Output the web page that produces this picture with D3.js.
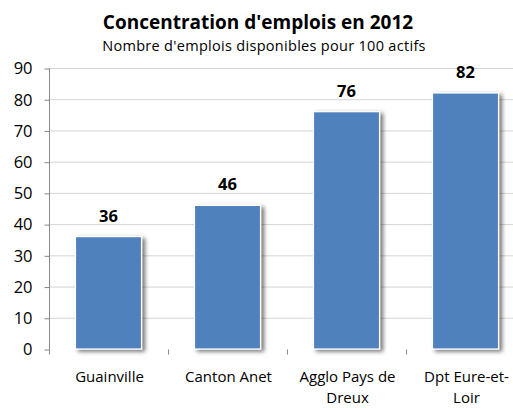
<!DOCTYPE html>
<html>
<head>
<meta charset="utf-8" />
<title>Concentration d'emplois en 2012</title>
<script src="https://d3js.org/d3.v7.min.js" charset="utf-8"></script>
<style>
    body { margin: 0; background: #fff; }
    svg { display: block; overflow: hidden; }
    text { font-family: "Open Sans", "Noto Sans", sans-serif; fill: #000; }
</style>
</head>
<body>
<svg id="chart" width="513" height="408"></svg>
<script>
// donnees
var categories = ["Guainville", "Canton Anet", "Agglo Pays de Dreux", "Dpt Eure-et-Loir"];
var categoryLines = [["Guainville"], ["Canton Anet"], ["Agglo Pays de", "Dreux"], ["Dpt Eure-et-", "Loir"]];
var values = [36, 46, 76, 82];
var yTicks = [0, 10, 20, 30, 40, 50, 60, 70, 80, 90];

var svg = d3.select("#chart"),
    margin = { top: 68, left: 49, bottom: 59 },
    plotRight = 525,
    height = +svg.attr("height") - margin.top - margin.bottom;

var x = d3.scaleBand().domain(categories).range([margin.left, plotRight]).paddingInner(0.445).paddingOuter(0.2225);
var y = d3.scaleLinear().domain([0, 90]).range([margin.top + height, margin.top]);

var defs = svg.append("defs");
var shadow = defs.append("filter").attr("id", "shadow")
    .attr("x", "-20%").attr("y", "-20%").attr("width", "150%").attr("height", "150%");
shadow.append("feDropShadow").attr("dx", 3).attr("dy", 2).attr("stdDeviation", 2.2)
    .attr("flood-color", "#000").attr("flood-opacity", 0.55);

// titre
svg.append("text").attr("x", 258).attr("y", 29).attr("text-anchor", "middle")
    .style("font-size", "19px").style("font-weight", "bold")
    .text("Concentration d'emplois en 2012");
svg.append("text").attr("x", 264).attr("y", 51).attr("text-anchor", "middle")
    .style("font-size", "14.5px").style("letter-spacing", "0.3px")
    .text("Nombre d'emplois disponibles pour 100 actifs");

// grille
svg.append("g").selectAll("line").data(yTicks.slice(1)).enter().append("line")
    .attr("x1", margin.left).attr("x2", plotRight)
    .attr("y1", function (d) { return y(d) + 0.5; }).attr("y2", function (d) { return y(d) + 0.5; })
    .attr("stroke", "#d4d4d4").attr("stroke-width", 1);

// axe y
var yAxis = d3.axisLeft(y).tickValues(yTicks).tickSize(5).tickPadding(12);
var gy = svg.append("g").attr("transform", "translate(" + (margin.left + 0.5) + ",0.5)").call(yAxis);
gy.select(".domain").attr("stroke", "#888").attr("d", "M0," + y(0) + "V" + y(90));
gy.selectAll(".tick line").attr("stroke", "#888");
gy.selectAll(".tick text").style("font-size", "16.5px").attr("fill", "#000");

// barres
svg.append("g").selectAll("rect").data(values).enter().append("rect")
    .attr("x", function (d, i) { return x(categories[i]); })
    .attr("y", function (d) { return y(d); })
    .attr("width", x.bandwidth())
    .attr("height", function (d) { return y(0) - y(d); })
    .attr("fill", "#4f81bd")
    .attr("stroke", "#fff").attr("stroke-width", 1.2)
    .attr("filter", "url(#shadow)");

// axe x
var xAxis = d3.axisBottom(x).tickSize(0).tickFormat("");
var gx = svg.append("g").attr("transform", "translate(0," + (y(0) + 0.5) + ")").call(xAxis);
gx.select(".domain").attr("stroke", "#888").attr("filter", "url(#shadow)");
var step = x.step();
gx.selectAll(".tickmark").data(categories).enter().append("line")
    .attr("class", "tickmark")
    .attr("x1", function (d) { return Math.round(x(d) - x.paddingOuter() * step) + 0.5; })
    .attr("x2", function (d) { return Math.round(x(d) - x.paddingOuter() * step) + 0.5; })
    .attr("y1", 0).attr("y2", 5).attr("stroke", "#888");

// etiquettes categories
var labels = svg.append("g").selectAll("text").data(categoryLines).enter().append("text")
    .attr("text-anchor", "middle")
    .style("font-size", "15px")
    .attr("transform", function (d, i) { return "translate(" + (x(categories[i]) + x.bandwidth() / 2 + 1) + ",382)"; });
labels.selectAll("tspan").data(function (d) { return d; }).enter().append("tspan")
    .attr("x", 0).attr("dy", function (d, i) { return i === 0 ? 0 : 21; })
    .text(function (d) { return d; });

// valeurs
svg.append("g").selectAll("text").data(values).enter().append("text")
    .attr("x", function (d, i) { return x(categories[i]) + x.bandwidth() / 2; })
    .attr("y", function (d) { return y(d) - 15; })
    .attr("text-anchor", "middle")
    .style("font-size", "16.5px").style("font-weight", "bold")
    .text(function (d) { return d; });
</script>
</body>
</html>
